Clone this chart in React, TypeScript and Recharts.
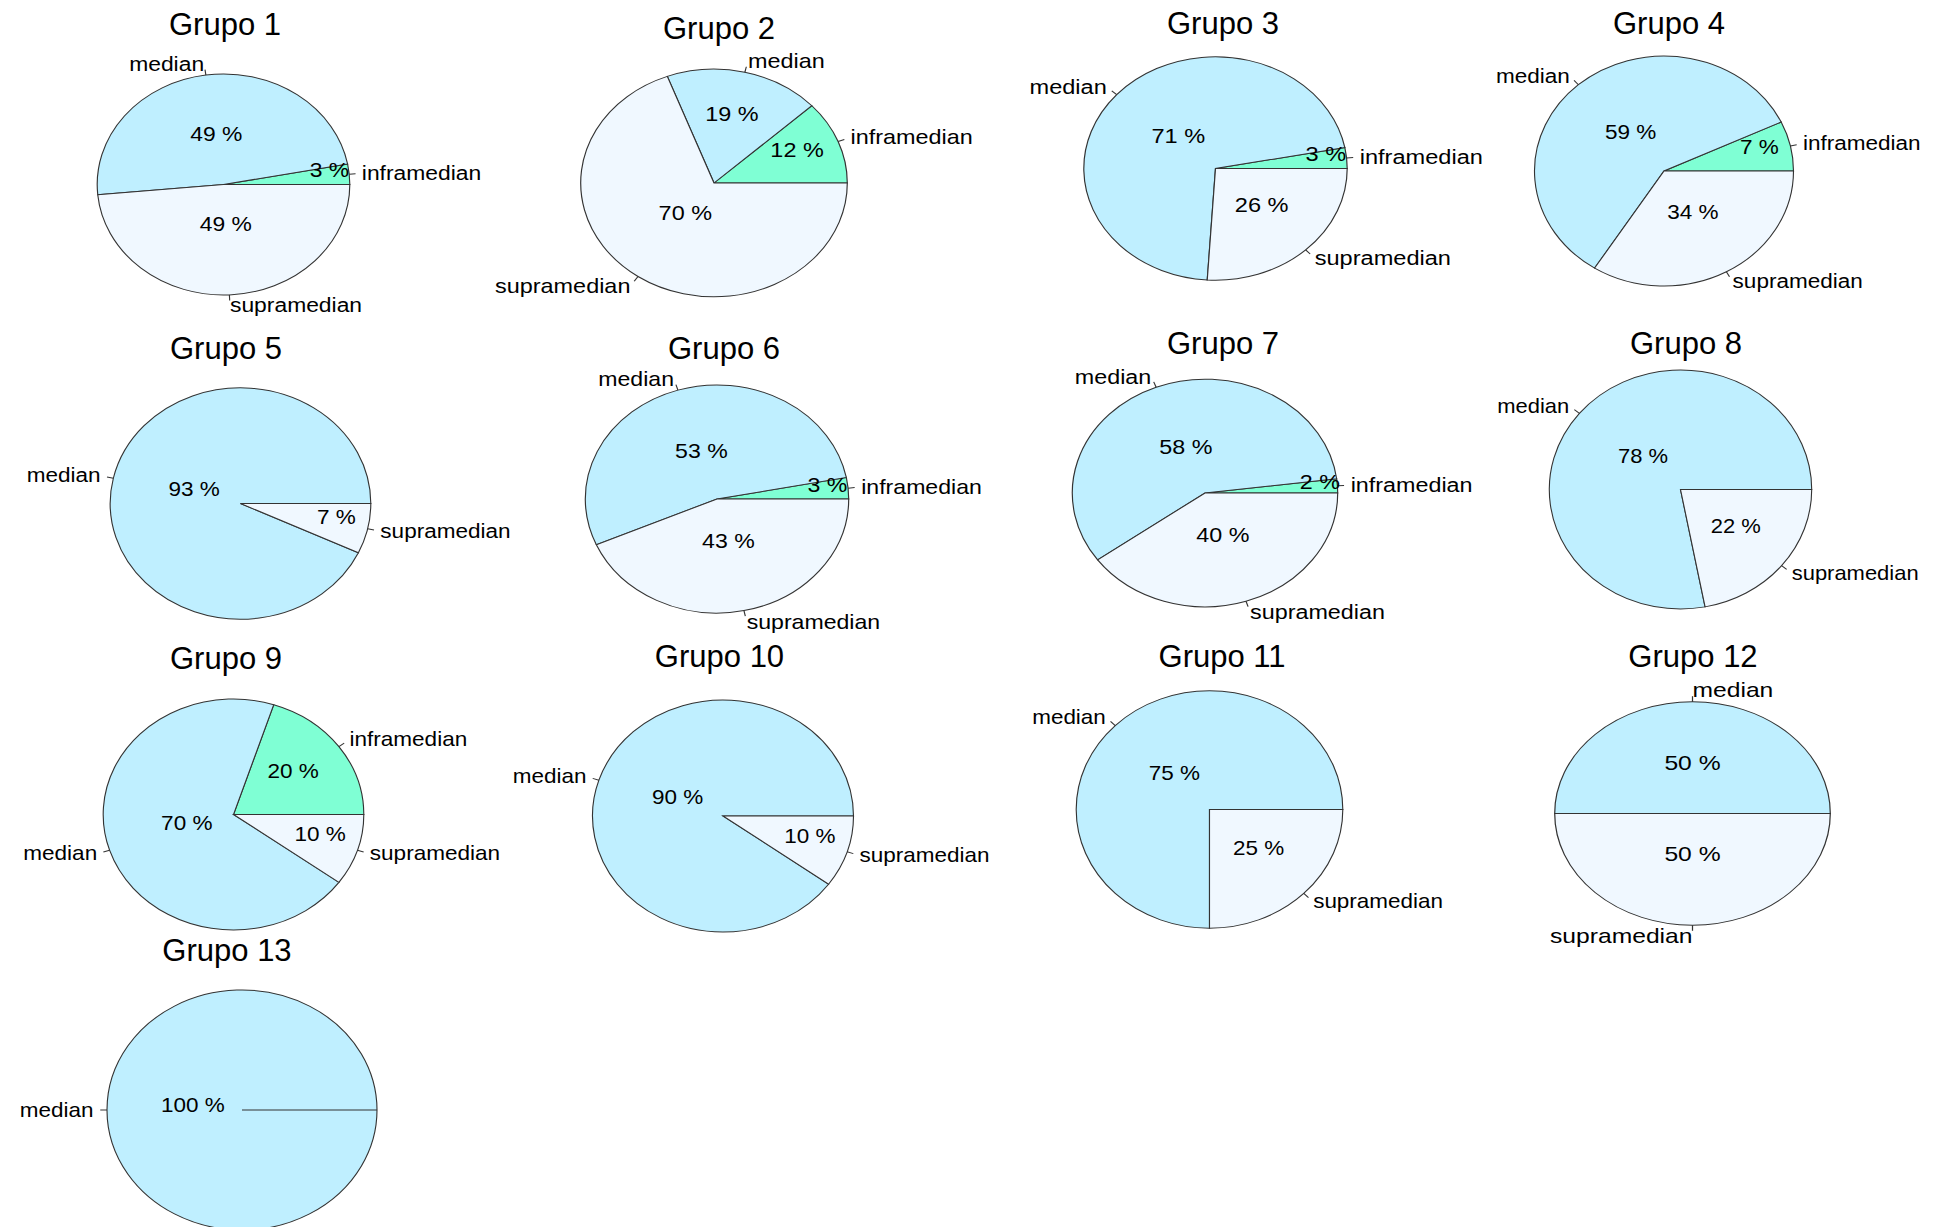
import React from 'react';
import { PieChart, Pie, Cell } from 'recharts';

// ---- data (percentages) ----
const groupNames = ['Grupo 1', 'Grupo 2', 'Grupo 3', 'Grupo 4', 'Grupo 5', 'Grupo 6', 'Grupo 7', 'Grupo 8', 'Grupo 9', 'Grupo 10', 'Grupo 11', 'Grupo 12', 'Grupo 13'];
const categories = ['inframedian', 'median', 'supramedian'];
const inframedian = [3, 12, 3, 7, 0, 3, 2, 0, 20, 0, 0, 0, 0];
const median = [49, 19, 71, 59, 93, 53, 58, 78, 70, 90, 75, 50, 100];
const supramedian = [49, 70, 26, 34, 7, 43, 40, 22, 10, 10, 25, 50, 0];

// ---- styles ----
const categoryColors: Record<string, string> = {
  inframedian: '#7FFFD4',
  median: '#BFEFFF',
  supramedian: '#F0F8FF',
};
const FONT = '"Liberation Sans", Arial, Helvetica, sans-serif';

// ---- layout of each panel (screen centre, ellipse radii, title anchor) ----
const layout = [
  { cx: 223, cy: 184.5, rx: 126.3, ry: 110.5, tx: 225, ty: 35 },
  { cx: 714, cy: 182.7, rx: 133.3, ry: 113.8, tx: 719, ty: 39 },
  { cx: 1215, cy: 168.3, rx: 131.7, ry: 111.7, tx: 1223, ty: 34 },
  { cx: 1663.8, cy: 170.7, rx: 129.5, ry: 115, tx: 1669, ty: 34 },
  { cx: 240.3, cy: 503.3, rx: 130.3, ry: 115.7, tx: 226, ty: 359 },
  { cx: 716.7, cy: 499, rx: 131.7, ry: 114, tx: 724, ty: 359 },
  { cx: 1205, cy: 492.7, rx: 132.7, ry: 113.8, tx: 1223, ty: 354 },
  { cx: 1680.5, cy: 489.3, rx: 131.2, ry: 119.5, tx: 1686, ty: 354 },
  { cx: 233, cy: 814, rx: 130.3, ry: 115.5, tx: 226, ty: 669 },
  { cx: 722.8, cy: 816, rx: 130.5, ry: 116, tx: 719.5, ty: 667 },
  { cx: 1209, cy: 809.3, rx: 133.3, ry: 118.7, tx: 1222, ty: 667 },
  { cx: 1692.8, cy: 813.3, rx: 137.8, ry: 111.7, tx: 1693, ty: 667 },
  { cx: 242, cy: 1110, rx: 135, ry: 120, tx: 227, ty: 961 },
];

const RAD = Math.PI / 180;
const LABEL_SIZE = 20;
const PCT_SIZE = 20;

const renderLabel = (props: any) => {
  const { cx, cy, midAngle, outerRadius, percent, name, value } = props;
  const c = Math.cos(-midAngle * RAD);
  const s = Math.sin(-midAngle * RAD);
  const p = (f: number) => ({ x: cx + outerRadius * f * c, y: cy + outerRadius * f * s });
  const a = p(1);
  const b = p(1.05);
  const t = p(1.1);
  const inner = p(0.36 + 0.56 * Math.exp(-percent / 0.2));
  return (
    <g>
      <line x1={a.x} y1={a.y} x2={b.x} y2={b.y} stroke="#333" strokeWidth={1} />
      <text
        x={t.x}
        y={t.y}
        textAnchor={c < 0 ? 'end' : 'start'}
        dominantBaseline="central"
        fontFamily={FONT}
        fontSize={LABEL_SIZE}
        fill="#000"
      >
        {name}
      </text>
      <text
        x={inner.x}
        y={inner.y - 5}
        textAnchor="middle"
        dominantBaseline="central"
        fontFamily={FONT}
        fontSize={PCT_SIZE}
        fill="#000"
      >
        {`${value} %`}
      </text>
    </g>
  );
};

const seriesByCategory: Record<string, number[]> = { inframedian, median, supramedian };

function groupData(i: number) {
  return categories
    .map((cat) => ({ name: cat, value: seriesByCategory[cat][i] }))
    .filter((d) => d.value > 0);
}

function PiePanel({ index }: { index: number }) {
  const L = layout[index];
  const W = Math.round(2 * (L.ry + 160));
  const H = Math.round(2 * (L.ry + 35));
  const sx = L.rx / L.ry;
  const data = groupData(index);
  return (
    <div
      style={{
        position: 'absolute',
        left: L.cx - W / 2,
        top: L.cy - H / 2,
        width: W,
        height: H,
        transform: `scaleX(${sx})`,
        transformOrigin: `${W / 2}px ${H / 2}px`,
      }}
    >
      <PieChart width={W} height={H} margin={{ top: 0, right: 0, bottom: 0, left: 0 }}>
        <Pie
          data={data}
          dataKey="value"
          nameKey="name"
          cx="50%"
          cy="50%"
          outerRadius={L.ry}
          startAngle={0}
          endAngle={360}
          stroke="#333"
          strokeWidth={1}
          label={renderLabel}
          labelLine={false}
          isAnimationActive={false}
        >
          {data.map((d) => (
            <Cell key={d.name} fill={categoryColors[d.name]} />
          ))}
        </Pie>
      </PieChart>
    </div>
  );
}

export default function App() {
  return (
    <div
      style={{
        position: 'absolute',
        left: 0,
        top: 0,
        width: 1945,
        height: 1227,
        overflow: 'hidden',
        background: '#fff',
      }}
    >
      {groupNames.map((g, i) => (
        <PiePanel key={g} index={i} />
      ))}
      <svg width={1945} height={1227} style={{ position: 'absolute', left: 0, top: 0, pointerEvents: 'none' }}>
        {groupNames.map((g, i) => (
          <text
            key={g}
            x={layout[i].tx}
            y={layout[i].ty}
            textAnchor="middle"
            fontFamily={FONT}
            fontSize={31}
            fill="#000"
          >
            {g}
          </text>
        ))}
      </svg>
    </div>
  );
}
